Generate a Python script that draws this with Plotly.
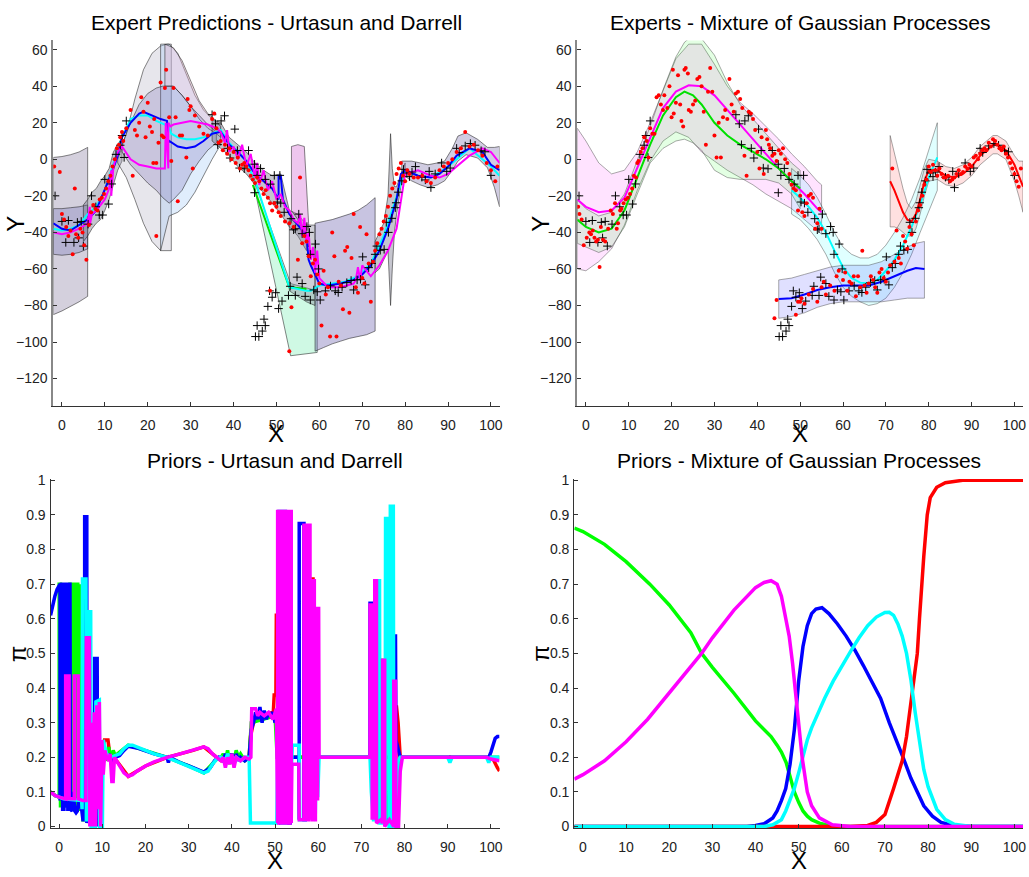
import plotly.graph_objects as go
from plotly.subplots import make_subplots

# ---------------- shared training points (black plus) ----------------
plus_pts = [(-1.6,-20),(0,-34),(1.5,-33.5),(0.9,-45.5),(2.8,-45.5),(3.6,-34.5),(4.5,-34),(3.9,-43),(5,-47.5),(6.1,-35.5),
            (6.9,-20),(7.9,-26),(8.7,-30.5),(9.5,-30.5),(10,-11),(10.9,-24.5),(11.6,-13.5),(12.6,2.7),(13.6,7.7),(14,13),(15,21),(14.5,1),
            (35,24.4),(35.8,19.4),(37.1,21),(37.9,23.8),(36.3,8),(38.6,6),(39.2,0.7),(40.3,16.5),(40.9,4.8),(41.4,-4.8),
            (42.5,-5.2),(43.5,4.8),(44.9,-2.7),(45.5,-8.8),(44.9,-18.3),(46.3,-5),(47.4,-11),(48.6,-13.6),(49.5,-8.8),(50.8,-8.8),
            (50.2,-23.4),(51,-24),(51.8,-29),(53.4,-32.5),(54,-38.6),(54.4,-38),(55.2,-30),(56,-40.7),(57.1,-36.8),(57.7,-40),
            (57.9,-52),(59.1,-46.4),(59.8,-60),
            (45.5,-91),(45.9,-97),(45.1,-97),(46.7,-94),(47.1,-87.5),(47.4,-91),(48,-80.5),(48.4,-72),(49.8,-73),(49,-75.5),
            (50.5,-81.7),(51.3,-77.6),(52.8,-74.5),(53.2,-69.5),(54.4,-74.5),(54.8,-64.5),(56,-68),(56.7,-75),(57.9,-77),(58.7,-71.5),
            (59.5,-72.5),(60.2,-77),(61.4,-72),(62.6,-69.3),(63.7,-72),(64.4,-72.9),(65.3,-70),(66.4,-67.5),(67.4,-66.3),(68,-71.5),
            (68.8,-66),(69.6,-65.7),(70.1,-53.4),(70.7,-68.7),(71.5,-59.3),(72.2,-57),(73,-52),(73.4,-47.5),(74.2,-49.8),(75.1,-49.3),
            (75.6,-34.5),(76.1,-40),(76.9,-32.3),(77.7,-26.5),(77.9,-23.8),(78.4,-18),(79.2,-11.8),(79.6,-5.5),(80.4,-7.5),(81,-9.5),
            (81.6,-7),(82.4,-4),(83.9,-9.8),(84.7,-11.3),(85.6,-6.6),(86,-15.5),(87,-8),(88.5,-2),(89.7,-6.6),(90.5,-4.8),
            (92,6),(92.6,3.7),(94,7.3),(95.2,8.6),(96.3,7.7),(97.7,4.7),(98.6,4.1),(100,-8.8)]

# ---------------- red test points ----------------
tl_red = [(-1.8,-4),(-0.5,-7),(0,-30),(0.5,-33),(1,-37),(1.5,-42),(2,-39),(2.5,-52),(3,-16),(3.3,-41),(3.8,-43),(4.3,-38),
          (4.8,-40),(5.2,-47),(5.7,-55),(6.3,-36),(6.8,-29),(7.3,-25),(7.8,-27),(8.3,-28),(8.8,-22),(9.3,-21),(9.8,-19),(10.3,-16),
          (10.8,-12),(11.3,-9),(11.8,-4),(12.3,0),(12.8,6),(13.3,8),(13.6,12),(14,15),(14.3,10),(15,17),(16,27),(16.5,-9),(17,16),
          (17.5,13),(18,20),(18.5,34),(19,26),(19.5,12),(20,31),(20.5,18),(21,15),(21.3,-2),(21.5,22),(22,-2),(22.5,9),(22,-42),
          (23,42),(23.3,13),(23.7,12),(24,39),(24.3,49),(25,23),(25.5,-1),(26,39),(26.5,23),(27,-23),(27.5,13),(28,13),(29,1),
          (29.3,33),(29.7,27),(30,29),(30.5,-5),(31,24),(32,18),(33,14),(34,13),(35,22),(35.5,25),(36,17),(36.5,9),(37,10),(37.5,5),
          (38,8),(38.5,3),(39,6),(39.5,0),(40,4),(40.5,-2),(41,1),(41.5,-5),(42,-3),(42.5,-2),(43,-4),(43.5,-6),(44,-9),(44.5,-11),
          (45,-13),(45.5,-10),(46,-12),(46.5,-16),(47,-19),(47.5,-17),(48,-21),(48.5,-24),(49,-28),(49.5,-24),(50,-26),(50.5,-29),
          (51,-31),(52,-34),(53,-35),(54,-37),(55,-55),(55.5,-10),(56,-46),(56.5,-42),(57,-45),(57.5,-53),(58,-64),(58.5,-57),
          (59,-55),(59.5,-63),(60,-68),(60.5,-91),(61,-61),(61.5,-74),(62,-70),(62.5,-97),(63,-40),(63.5,-53),(64,-97),(64.5,-67),
          (65,-69),(65.5,-82),(66,-50),(66.5,-48),(67,-84),(67.5,-54),(68,-30),(68.5,-70),(69,-73),(69.5,-37),(70,-65),(70.5,-68),
          (71,-41),(71.5,-57),(72,-78),(72.5,-56),(73,-50),(73.5,-46),(74,-41),(74.5,-38),(75,-34),(75.5,-31),(76,-26),(76.5,-20),
          (77,-16),(77.5,-13),(78,-8),(78.5,-5),(79,-2),(79.5,-9),(80,-12),(80.5,-6),(81,-8),(82,-10),(83,-10),(84,-9),(85,-12),
          (86,-13),(87,-10),(88,-6),(89,-4),(90,-2),(91,0),(92,4),(93,6),(94,15),(95,7),(96,8),(97,5),(98,2),(99,-2),(100,-6),
          (101,-12),(101.5,-4),(53,-105),(53.5,-81),(48.5,-72)]

tr_red = [(-1.8,-26),(-1.5,-30),(-1,-33),(-0.5,-47),(0.2,-43),(0.8,-40),(1.2,-41),(1.6,-39),(2,-43),(2.4,-45),(2.8,-44),(3.2,-59),
          (3.5,-37),(4,-44),(4.5,-45),(5.2,-38),(5.8,-28),(6.3,-30),(6.8,-24),(7.2,-38),(7.5,-35),(8,-28),(8.3,-27),(8.8,-24),(9.3,-22),
          (9.8,-21),(10.3,-19),(10.8,-16),(11.2,-9),(11.7,-10),(12,-2),(12.3,-1),(12.8,4),(13.2,6),(13.6,12),(14.2,10),(14.6,1),(15,17),
          (15.5,14),(16,14),(16.5,34),(17,35),(17.5,30),(18,27),(18.3,35),(19,28),(19.5,40),(20,23),(20.5,25),(20.3,49),(21,31),
          (21.5,46),(22,30),(22.3,21),(22.7,18),(23,49),(23.3,50),(23.8,47),(24,27),(24.5,26),(25,30),(25.5,32),(26,44),(26.5,45),
          (27,40),(27.5,26),(28,8),(28.5,37),(29,50),(29.5,37),(30,13),(30.5,1),(31,20),(31.5,1),(32,23),(32.5,27),(33,22),(33.5,44),
          (34,30),(34.5,26),(35,36),(35.5,37),(36,33),(36.5,28),(37,2),(37.5,-9),(38,26),(38.5,25),(39,22),(39.5,16),(40,4),(40.5,-5),
          (41,12),(41.5,-8),(42,16),(42.3,11),(42.7,8),(43,6),(43.5,2),(44,3),(44.5,-1),(45,5),(45.5,3),(46,6),(46.5,0),(47,-2),
          (47.5,-8),(48,-14),(48.5,-16),(49,-17),(49.5,-28),(50,-20),(50.5,-29),(51,-31),(51.5,-24),(52,-20),(52.5,-19),(53,-21),
          (53.5,-38),(54,-35),(54.5,-27),(55,-38),(44,-87),(44.5,-77),(49,-85),(49.5,-78),(50,-78),(50.3,-76),(51,-79),(52,-74),
          (53,-71),(54,-78),(55,-70),(55.5,-67),(56,-74),(57,-69),(58,-72),(58.5,-64),(59,-61),(60,-66),(60.5,-62),(61,-72),
          (61.5,-67),(62,-68),(62.5,-64),(63,-75),(63.5,-64),(64,-70),(64.5,-50),(65,-69),(65.5,-73),(66,-68),(66.5,-64),(67,-66),
          (67.5,-70),(68,-73),(68.5,-62),(69,-60),(69.5,-65),(70,-67),(70.5,-62),(71,-58),(71.5,-5),(72,-56),(72.5,-39),(73,-54),
          (73.5,-57),(74,-42),(74.5,-45),(75,-49),(75.5,-37),(76,-41),(76.5,-47),(77,-34),(77.5,-28),(78,-25),(78.5,-20),(79,-14),
          (79.5,-11),(80,-4),(80.5,-7),(81,-3),(81.5,-6),(82,-9),(82.5,-5),(83,-8),(83.5,-10),(84,-10),(84.5,-9),(85,-12),(85.5,-11),
          (86,-10),(86.5,-8),(87,-6),(87.5,-8),(88,-7),(88.5,-4),(89,-5),(89.5,-3),(90,-4),(90.5,1),(91,2),(91.5,0),(92,3),(92.5,5),
          (93,6),(93.5,5),(94,9),(94.5,7),(95,11),(95.5,10),(96,8),(96.5,6),(97,5),(97.5,7),(98,3),(98.5,1),(99,-2),(99.5,-5),
          (100,-8),(100.5,-12),(101,-15),(101.5,-5)]

# ---------------- TR: mixture of GP experts (x, mean, upper, lower) ----------------
trm_x    = [-2, 0, 3, 6, 9, 12, 15, 18, 21, 24, 27, 30, 33, 36, 39, 42, 45, 48, 51, 54, 55]
trm_mean = [-22,-26,-29,-28,-21,-5, 12, 28, 37, 40.5, 40, 35, 27, 19, 11, 3, -5, -12, -19, -27, -29]
trm_up   = [17, 10, -2, -8, -6, 4, 20, 38, 55, 63, 63, 52, 40, 31, 25, 18, 11, 3, -4, -12, -14]
trm_lo   = [-60,-61,-56,-49,-36,-17,-1, 10, 15, 12, 4, -1, -6, -10, -14, -19, -23, -27, -33, -39, -41]

trg_x    = [-2, 0, 3, 6, 9, 12, 15, 18, 21, 23, 25, 27, 30, 33, 36, 39, 42, 45, 48, 50]
trg_mean = [-33,-37,-40,-38,-28,-10, 8, 24, 34, 37, 35, 30, 20, 13, 8, 4, 0, -5, -12, -16]
trg_up   = [-22,-27,-31,-29,-19,-1, 18, 38, 56, 64, 68, 66, 57, 42, 30, 22, 14, 6, -2, -6]
trg_lo   = [-46,-48,-51,-48,-37,-19,-2, 6, 10, 11, 9, 5, -6, -10, -11, -11, -11, -13, -19, -27]

trc_x    = [48, 50, 52, 54, 56, 58, 60, 62, 64, 66, 68, 70, 72, 74, 76, 78, 80, 82]
trc_mean = [-17,-21,-26,-32,-40,-50,-59,-65,-67.5,-68,-66,-61,-55,-47,-37,-25,-10, 1]
trc_up   = [-5, -9, -14,-21,-30,-40,-48,-52,-54,-54,-52,-47,-40,-32,-22,-10, 5, 20]
trc_lo   = [-30,-33,-38,-44,-52,-62,-70,-75,-78,-80,-79,-76,-70,-62,-52,-40,-28,-17]

trb_x    = [45, 48, 51, 54, 57, 60, 63, 66, 69, 72, 75, 77, 79]
trb_mean = [-76.5,-76,-74,-71.5,-70,-69,-69,-69,-67,-64,-61,-59.5,-60]
trb_up   = [-66,-65,-63,-61,-59,-58,-58,-58,-56,-52,-48,-46,-45]
trb_lo   = [-87,-86,-84,-81,-79,-78,-78,-78,-78,-77,-76,-76,-76]

trr_x    = [71, 72, 73, 74, 75, 76, 77, 78, 79, 80, 82, 84, 86, 88, 90, 92, 94, 95, 96, 98, 100, 101, 102]
trr_mean = [-12,-17,-23,-29,-33,-34,-30,-22,-12,-6,-6,-9,-10,-8,-4, 2, 6, 8, 8, 5, -3, -9, -15]
trr_up   = [13, 3, -7, -16,-24,-27,-23,-14,-5, 0, -1,-4,-5,-3, 1, 7, 11, 13, 13, 10, 2, -1, -1]
trr_lo   = [-37,-37,-38,-40,-42,-42,-38,-30,-20,-12,-11,-14,-15,-13,-9,-3, 1, 3, 3, 0, -12,-20,-29]

# ---------------- TL: Urtasun & Darrell bands (x, upper, lower) ----------------
tlb1_x = [-2, 0, 2, 4, 6];            tlb1_up = [1, 1.5, 2.5, 4, 6.5];          tlb1_lo = [-85, -83, -80.5, -78, -75]
tlb2_x = [-2, 0, 2, 4, 6];            tlb2_up = [-27, -27, -26.5, -26, -25];    tlb2_lo = [-52, -52.5, -52, -51, -49]
tlb3_x = [5, 6, 7, 8, 9, 10, 11, 12, 13, 14]
tlb3_up = [-25, -22, -18, -16, -12, -9, -5, 4, 8, 12]
tlb3_lo = [-45, -42, -38, -35, -33, -28, -22, -14, -6, -1]
tlb4_x = [13, 15, 17, 19, 21, 23, 24.5, 25.5]
tlb4_up = [0, 14, 33, 49, 58, 62, 63, 63]
tlb4_lo = [-2, -10, -22, -35, -45, -50, -50, -50]
tlb5_x = [23, 25, 27, 29, 31, 33, 35, 37]
tlb5_up = [63, 63, 58, 47, 35, 27, 22, 18]
tlb5_lo = [-50, -31, -29, -25, -18, -9, 0, 8]
tlb6_x = [24, 26, 28, 30, 32, 34, 36, 37]
tlb6_up = [63, 61, 54, 43, 32, 25, 21, 18]
tlb6_lo = [40, 40, 35, 29, 22, 17, 14, 12]
tlb7_x = [14, 16, 18, 20, 22, 23.5, 25, 26, 28, 30, 32, 34, 36]
tlb7_up = [8, 20, 30, 36, 39, 40, 40, 40, 35, 29, 24, 19, 15]
tlb7_lo = [4, -3, -8, -13, -17, -21, -24, -22, -17, -8, -1, 5, 9]
tlb8_x = [35, 37, 39, 41, 43, 45, 47, 49, 51, 53, 55, 57]
tlb8_up = [22, 20, 12, 8, 4, -2, -6, -9, -8, -28, -30, -36]
tlb8_lo = [10, 6, 2, -4, -8, -14, -18, -24, -30, -37, -42, -50]
tlb9_x = [45, 53.3, 59.5];            tlb9_up = [-13, -68, -72];                tlb9_lo = [-17, -107.5, -105.7]
tlb10_x = [53.5, 55, 56.5, 57.5];     tlb10_up = [7, 8, 7, -35];                tlb10_lo = [-28, -33, -40, -48]
tlb11_x = [53, 55, 57, 59];           tlb11_up = [-32, -36, -36, -36];          tlb11_lo = [-72, -75, -78, -80]
tlb12_x = [59, 61, 63, 65, 67, 69, 71, 73]
tlb12_up = [-35, -34, -33, -31.5, -30, -28, -25, -21]
tlb12_lo = [-105, -103, -101, -99.5, -98, -97, -96, -94]
tlb13_x = [73, 74, 75, 76, 76.6, 77, 77.5, 78, 79, 80]
tlb13_up = [-45, -40, -35, -20, 14, -5, -15, -15, -8, -2]
tlb13_lo = [-62, -60, -55, -50, -80, -60, -40, -30, -15, -8]
tlb14_x = [79.2, 81.5, 83.5, 85.3, 87.5, 89.2, 91, 92.3, 94.2, 96.9, 99.2, 100.8, 102]
tlb14_up = [-1, -1, -2, -3, -2, -1, 6, 12.7, 14.5, 10.9, 6.5, 6.5, 7]
tlb14_lo = [-8, -11.8, -14, -15.4, -14, -11.8, -6, -1, 2.5, 0.7, -4.7, -15.4, -26]

tl_blue_x = [-2,0,2,4,6,8,10,12,13,14,16,18,19,21,23,24.5,24.5,25,27,29,31,33,35,37,39,41,43,45,47,49,50.5,50.5,51,51.5,
             53,55,57,57.5,58,60,62,65,68,70,72,74,76,78,79,80,83,86,88,90,92,95,98,100,102]
tl_blue_y = [-35,-38,-39,-36,-33,-28,-17,-5,2,12,20,25,26,24,22,21,8,10,7,6,7,10,14,15,8,4,-1,-8,-12,-16,-22,-9,-9,-22,
             -30,-36,-42,-55,-58,-68,-69,-68,-66,-63,-58,-50,-38,-22,-8,-6,-9,-10,-8,-4,2,6,4,-3,-6]
tl_cyan_x = [-2,0,2,4,6,8,10,12,14,16,18,20,22,24,25,25.5,27,29,31,33,35,37,39,41,43,45.5,53,57,58,60,63,66,69,72,75,78,80,
             83,86,90,95,100,102]
tl_cyan_y = [-38,-39,-38,-36,-30,-26,-17,-2,12,22,24,24,21,19,17,14,12,11,11,12,14,16,9,4,-1,-15,-70,-72,-72,-69,-68,-67,-64,
             -57,-42,-20,-6,-9,-10,-4,6,-4,-9]
tl_green_x = [44.5, 53, 57]
tl_green_y = [-14, -70, -71]
tl_mag_x = [-2,0,2,4,6,6.5,6.5,7,8,10,11,11.5,11.5,12,13,14,16,18,20,22,24,24.2,24.8,24.8,25.3,26,28,30,32,34,36,37,
            38,38.5,39,40,41,42,43,44,45,45.5,46,47,48,49,50,51,52,53,54,55,55.5,56,56.5,57,57.5,58,58.5,59,59.5,60,
            62,65,68,68.5,69,69.5,70,72,74,76,78,79,80,83,86,88,90,92,95,98,100,102]
tl_mag_y = [-40,-41,-40,-38,-35,-26,-36,-30,-28,-22,-16,-6,-20,-4,4,7,0,-3,-4,-5,-5,20,-5,20,18,19,20,21,20,19,17,15,
            9,16,4,7,0,8,-4,3,-10,-2,-14,-6,-17,-12,-22,-19,-26,-28,-33,-35,-30,-42,-32,-46,-40,-55,-48,-62,-50,-65,-70,
            -70,-68,-66,-59,-66,-58,-64,-58,-50,-38,-22,-8,-6,-9,-10,-8,-4,2,6,4,-2,-8]

# ---------------- BL: priors, Urtasun & Darrell ----------------
bl_red = [(-2,0.1),(-1,0.09),(0,0.085),(1,0.08),(7,0.075),(8,0.2),(10,0.22),(10.5,0.25),(11.3,0.25),(11.8,0.2),(13.3,0.19),
          (16,0.145),(20,0.175),(25,0.2),(31,0.22),(33.5,0.23),(36.5,0.2),(37.5,0.19),(44,0.2),(44.3,0.26),
          (45,0.3),(47,0.32),(49.6,0.33),(49.8,0.38),(50.2,0.38),(50.3,0.61),(50.6,0.61),(50.7,0.2),(54,0.2),(58.2,0.2),
          (58.3,0.715),(58.8,0.715),(58.9,0.2),(72,0.2),(78,0.2),(78.1,0.35),(78.5,0.3),(79,0.2),(99,0.2),(100,0.2),
          (100.5,0.195),(101,0.18),(101.5,0.17),(102,0.16)]
bl_green = [(-2,0.1),(-1,0.09),(0.0,0.085),(0.0,0.7),(0.3,0.7),(0.3,0.06),(2.5,0.06),(2.5,0.7),(2.8,0.7),(2.8,0.05),(3.1,0.05),
            (3.1,0.7),(3.4,0.7),(3.4,0.05),(3.7,0.05),(3.7,0.7),(4.3,0.7),(4.3,0.05),(4.6,0.05),(4.6,0.695),(5.0,0.695),
            (5.0,0.05),(5.3,0.05),(5.3,0.695),(5.5,0.695),(5.5,0.02),(7,0.02),(8,0.1),(9,0.05),(10,0.2),(10.5,0.22),(11,0.19),
            (11.5,0.23),(12,0.18),(12.5,0.22),(13,0.205),(16,0.235),(20,0.22),(25,0.2),(30,0.175),(33.5,0.155),(36.5,0.195),
            (37.5,0.2),(38,0.21),(38.5,0.19),(39,0.22),(39.5,0.18),(40,0.21),
            (40.5,0.19),(41,0.22),(41.5,0.2),(42,0.21),(43,0.19),(44,0.2),(44.5,0.3),(50,0.32),(50.5,0.2),(72,0.2),(74.3,0.2),
            (74.4,0.48),(75.6,0.48),(75.7,0.1),(76,0.02),(78,0.02),(79,0.2),(99,0.2),(100,0.2),(102,0.2)]
bl_blue = [(-2,0.61),(-1.5,0.64),(-1,0.665),(-0.5,0.685),(0,0.698),(0.2,0.7),(0.2,0.08),(0.5,0.08),(0.5,0.7),(0.8,0.7),
           (0.8,0.05),(1.1,0.05),(1.1,0.7),(1.4,0.7),(1.4,0.06),(1.7,0.06),(1.7,0.7),(2.0,0.7),(2.0,0.05),(2.3,0.05),(2.3,0.7),
           (2.5,0.7),(2.6,0.05),(3.0,0.045),(3.3,0.1),(3.6,0.045),(3.9,0.04),(4.2,0.045),(4.6,0.08),(5.2,0.05),(5.5,0.02),
           (5.9,0.02),(5.9,0.895),(6.4,0.895),(6.4,0.01),(7,0.2),(7.5,0.05),(8.0,0.3),(8.2,0.02),(8.2,0.485),(8.8,0.485),
           (8.9,0.0),(9.4,0.25),(9.8,0.1),(10.2,0.24),(10.8,0.2),(11.5,0.21),(12,0.19),(13,0.2),(14,0.205),(15,0.22),(16,0.232),
           (18,0.227),(20,0.218),(22,0.21),(25,0.2),(25.3,0.185),(25.6,0.2),(28,0.185),(31,0.17),(33.5,0.157),(35,0.17),
           (36,0.19),(37,0.2),(38,0.19),(38.5,0.21),(39,0.185),(40,0.21),(40.5,0.18),(41,0.21),(41.5,0.19),(42,0.2),(43,0.19),
           (44,0.2),(44.5,0.28),(45,0.3),(45.5,0.33),(46,0.31),(46.5,0.345),(47,0.3),(47.5,0.335),(48,0.31),(48.5,0.33),
           (49,0.32),(49.5,0.33),(50,0.3),(50.5,0.32),(50.9,0.01),(50.9,0.91),(51.3,0.91),(51.3,0.01),(52.1,0.01),(52.1,0.91),
           (52.4,0.91),(52.4,0.01),(53.5,0.01),(53.7,0.2),(55.5,0.2),(55.6,0.02),(55.6,0.875),(56.7,0.875),(56.7,0.02),
           (57.0,0.02),(57.2,0.2),(60,0.2),(72,0.2),(72.0,0.645),(72.7,0.645),(72.7,0.05),(73.5,0.02),(74.4,0.02),(74.4,0.42),
           (74.9,0.42),(74.9,0.02),(77.4,0.02),(77.5,0.55),(77.9,0.55),(78,0.25),(78.6,0.22),(79,0.2),(99,0.2),(99.5,0.2),
           (100,0.215),(100.5,0.24),(101,0.255),(101.5,0.26),(102,0.26)]
bl_cyan = [(-2,0.1),(-1,0.09),(0,0.085),(1,0.08),(5.2,0.075),(5.3,0.05),(5.4,0.715),(6.2,0.715),(6.3,0.02),(6.8,0.02),(7.0,0.62),(7.3,0.62),(7.4,0.0),
           (8.4,0.0),(8.5,0.36),(9.3,0.365),(9.4,0.0),(10.0,0.0),(10.2,0.25),(11,0.21),(12,0.2),(13,0.205),(14,0.21),(15,0.225),
           (16,0.235),(17,0.235),(18,0.23),(20,0.22),(22,0.21),(25,0.2),(28,0.185),(30,0.175),(32,0.163),(33.5,0.155),
           (34.5,0.16),(35.5,0.18),(36.5,0.195),(37.5,0.2),(38.5,0.19),(39,0.21),(40,0.19),(41,0.2),(42,0.19),(43,0.2),(44,0.2),
           (44.3,0.01),(50.4,0.01),(50.6,0.17),(51.5,0.17),(51.6,0.01),(52.4,0.01),(52.6,0.17),(53.8,0.17),(54.0,0.235),
           (55.6,0.235),(55.7,0.02),(57.0,0.02),(57.2,0.17),(57.8,0.17),(58,0.03),(59.3,0.02),(59.4,0.09),(59.9,0.09),(60.2,0.2),
           (72,0.2),(72.3,0.1),(72.8,0.02),(73.6,0.02),(73.6,0.71),(74.2,0.71),(74.3,0.01),(75.5,0.01),(75.6,0.89),(76.3,0.89),
           (76.4,0.0),(76.7,0.0),(76.7,0.925),(77.4,0.925),(77.5,0.0),(78.3,0.0),(78.5,0.19),(79,0.2),(90,0.2),(90.5,0.185),
           (91,0.2),(99,0.2),(99.5,0.185),(100,0.2),(102,0.2)]
bl_mag = [(-2,0.1),(-1,0.09),(0,0.085),(1,0.08),(1.5,0.08),(1.5,0.435),(2.3,0.435),(2.3,0.08),(3.5,0.08),(3.5,0.435),
          (4.4,0.435),(4.4,0.08),(5.5,0.075),(6.2,0.075),(6.3,0.545),(7.0,0.545),(7.1,0.0),(7.5,0.3),(7.8,0.0),(8.1,0.33),
          (8.4,0.0),(8.7,0.35),(9.0,0.05),(9.3,0.36),(9.6,0.0),(9.9,0.25),(10.2,0.15),(10.6,0.22),(11,0.2),(11.5,0.19),
          (11.8,0.21),(12.2,0.13),(12.5,0.13),(12.8,0.2),(13.3,0.19),(14,0.175),(15,0.155),(16,0.145),(17,0.15),(18,0.16),
          (20,0.175),(22,0.187),(25,0.2),(28,0.21),(31,0.22),(33.5,0.23),(34.5,0.225),(35.5,0.21),(36.5,0.2),(37.5,0.19),
          (38,0.2),(38.5,0.17),(39,0.2),(39.5,0.18),(40,0.21),(40.5,0.17),(41,0.2),(42,0.19),(43,0.2),(44,0.195),(44.4,0.2),
          (44.6,0.34),(45.5,0.34),(46,0.32),(46.5,0.33),(47.5,0.32),(48.5,0.33),(49.5,0.31),(50.3,0.34),(50.6,0.01),
          (50.6,0.91),(50.85,0.91),(50.85,0.01),(51.35,0.01),(51.35,0.91),(51.6,0.91),(51.6,0.01),(51.85,0.01),(51.85,0.91),
          (52.05,0.91),(52.05,0.01),(52.45,0.01),(52.45,0.91),(52.7,0.91),(52.7,0.01),(52.95,0.01),(52.95,0.91),(53.2,0.91),
          (53.2,0.01),(53.45,0.01),(53.45,0.91),(53.75,0.91),(53.75,0.01),(53.9,0.18),(55.5,0.18),(55.6,0.02),(56.7,0.02),
          (56.7,0.87),(57.0,0.87),(57.0,0.02),(57.25,0.02),(57.25,0.87),(57.5,0.87),(57.5,0.02),(57.75,0.02),(57.75,0.87),
          (58.1,0.87),(58.1,0.02),(58.3,0.02),(58.3,0.71),(58.6,0.71),(58.6,0.02),(58.85,0.02),(58.85,0.71),(59.1,0.71),
          (59.1,0.02),(59.35,0.02),(59.35,0.63),(59.6,0.63),(59.6,0.08),(59.85,0.08),(59.85,0.63),(60.1,0.63),(60.2,0.2),
          (72,0.2),(72.0,0.64),(72.5,0.64),(72.5,0.02),(72.8,0.1),(73.1,0.02),(73.1,0.71),(73.5,0.71),(73.5,0.01),(74.5,0.02),
          (74.9,0.01),(74.9,0.48),(75.4,0.48),(75.4,0.0),(76.5,0.02),(77.5,0.0),(77.5,0.42),(77.9,0.42),(78.0,0.0),(78.6,0.0),
          (79,0.16),(79.5,0.2),(99,0.2),(100,0.195),(102,0.19)]

# ---------------- BR: priors, mixture of GP ----------------
br_green = [(-2,0.862),(0,0.852),(5,0.815),(10,0.765),(15.5,0.7),(20,0.64),(25,0.56),(27.5,0.5),(30,0.46),(35,0.385),
            (40,0.305),(42,0.28),(43.6,0.26),(45,0.235),(46,0.215),(47.1,0.185),(48,0.14),(49,0.1),(50,0.07),(51,0.045),
            (52,0.03),(53,0.02),(54.8,0.01),(57,0.003),(60,0),(102,0)]
br_mag = [(-2,0.137),(0,0.15),(5,0.19),(10,0.245),(15,0.31),(20,0.385),(25,0.46),(27.5,0.5),(30,0.545),(35,0.625),
          (40,0.69),(42,0.705),(43.6,0.71),(45,0.7),(46,0.665),(47,0.6),(47.8,0.55),(48.6,0.47),(49.3,0.38),(50,0.3),
          (50.8,0.2),(52,0.1),(53,0.06),(54.8,0.025),(57.8,0.005),(62,0),(102,0)]
br_blue = [(-2,0),(38,0),(40,0.003),(42,0.008),(44,0.025),(45,0.045),(46,0.075),(47,0.11),(48,0.18),(49,0.28),(50,0.42),
           (51,0.52),(52,0.58),(53,0.615),(54,0.628),(55.4,0.632),(57,0.615),(59,0.585),(61,0.55),(63,0.51),(65,0.465),
           (67,0.42),(69,0.37),(71,0.3),(73,0.24),(74.2,0.2),(76,0.14),(77.5,0.1),(79,0.06),(81,0.03),(83,0.012),(86,0.003),
           (90,0),(102,0)]
br_cyan = [(-2,0),(42,0),(44,0.005),(46,0.02),(47,0.045),(48,0.075),(49,0.11),(50,0.155),(51,0.205),(52,0.25),(53,0.285),
           (54,0.315),(56,0.37),(58,0.42),(60,0.465),(62,0.505),(64,0.545),(66,0.58),(68,0.605),(70,0.618),(71,0.619),
           (72,0.61),(73,0.585),(74,0.55),(75,0.5),(76,0.425),(77,0.33),(78,0.24),(79,0.165),(80,0.115),(81,0.08),(82,0.05),
           (84,0.02),(86,0.007),(90,0),(102,0)]
br_red = [(-2,0),(62,0),(66,0.003),(68,0.012),(70,0.035),(71,0.07),(72,0.11),(73,0.15),(74,0.19),(75,0.26),(76,0.36),
          (77,0.45),(77.5,0.5),(78,0.6),(78.5,0.7),(79,0.78),(79.8,0.9),(80.5,0.95),(82,0.98),(84,0.993),(88,1),(102,1)]

# ---------------- figure ----------------
FONT = "Liberation Sans, Arial, Helvetica, sans-serif"
W, H = 1029, 877
fig = make_subplots(rows=2, cols=2)


def unzip(pts):
    return [p[0] for p in pts], [p[1] for p in pts]


def band(x, up, lo, fill, row, col, edge="rgba(30,30,30,0.6)", ew=0.9):
    px = list(x) + list(reversed(x)) + [x[0]]
    py = list(up) + list(reversed(lo)) + [up[0]]
    fig.add_trace(go.Scatter(x=px, y=py, mode="lines", fill="toself", fillcolor=fill,
                             line=dict(color=edge, width=ew), hoverinfo="skip"), row=row, col=col)


def line(x, y, color, width, row, col):
    fig.add_trace(go.Scatter(x=x, y=y, mode="lines", line=dict(color=color, width=width)), row=row, col=col)


# TL bands
tl_bands = [
    (tlb1_x, tlb1_up, tlb1_lo, "rgba(120,110,150,0.32)"),
    (tlb2_x, tlb2_up, tlb2_lo, "rgba(100,100,180,0.28)"),
    (tlb3_x, tlb3_up, tlb3_lo, "rgba(110,110,130,0.40)"),
    (tlb4_x, tlb4_up, tlb4_lo, "rgba(170,165,185,0.28)"),
    (tlb5_x, tlb5_up, tlb5_lo, "rgba(160,200,245,0.32)"),
    (tlb6_x, tlb6_up, tlb6_lo, "rgba(230,170,200,0.32)"),
    (tlb7_x, tlb7_up, tlb7_lo, "rgba(110,100,175,0.25)"),
    (tlb8_x, tlb8_up, tlb8_lo, "rgba(110,110,130,0.40)"),
    (tlb9_x, tlb9_up, tlb9_lo, "rgba(130,240,185,0.38)"),
    (tlb11_x, tlb11_up, tlb11_lo, "rgba(130,130,150,0.38)"),
    (tlb10_x, tlb10_up, tlb10_lo, "rgba(215,120,215,0.42)"),
    (tlb12_x, tlb12_up, tlb12_lo, "rgba(110,100,175,0.38)"),
    (tlb13_x, tlb13_up, tlb13_lo, "rgba(120,120,140,0.42)"),
    (tlb14_x, tlb14_up, tlb14_lo, "rgba(120,110,170,0.35)"),
]
for bx, bu, bl, fc in tl_bands:
    band(bx, bu, bl, fc, 1, 1)
line(tl_green_x, tl_green_y, "#00e000", 2, 1, 1)
line(tl_cyan_x, tl_cyan_y, "#00ffff", 2, 1, 1)
line(tl_blue_x, tl_blue_y, "#0000ff", 2, 1, 1)
line(tl_mag_x, tl_mag_y, "#ff00ff", 2, 1, 1)

# TR bands + means
tr_experts = [
    (trm_x, trm_mean, trm_up, trm_lo, "#ff00ff", "rgba(255,0,255,0.11)"),
    (trg_x, trg_mean, trg_up, trg_lo, "#00e000", "rgba(0,255,0,0.11)"),
    (trc_x, trc_mean, trc_up, trc_lo, "#00ffff", "rgba(0,255,255,0.12)"),
    (trb_x, trb_mean, trb_up, trb_lo, "#0000ff", "rgba(0,0,255,0.12)"),
    (trr_x, trr_mean, trr_up, trr_lo, "#ff0000", "rgba(255,0,0,0.12)"),
]
for ex, em, eu, el, lc, fc in tr_experts:
    band(ex, eu, el, fc, 1, 2, edge="rgba(60,60,60,0.55)", ew=0.8)
for ex, em, eu, el, lc, fc in tr_experts:
    line(ex, em, lc, 2, 1, 2)

# points on both top panels
px_, py_ = unzip(plus_pts)
for (rx, ry), col in ((unzip(tl_red), 1), (unzip(tr_red), 2)):
    fig.add_trace(go.Scatter(x=px_, y=py_, mode="markers",
                             marker=dict(symbol="cross-thin", size=6, line=dict(color="black", width=1))), row=1, col=col)
    fig.add_trace(go.Scatter(x=rx, y=ry, mode="markers",
                             marker=dict(symbol="circle", size=4, color="#ff0000", line=dict(width=0))), row=1, col=col)

# BL priors
for pts, c in ((bl_red, "#ff0000"), (bl_green, "#00ff00"), (bl_blue, "#0000ff"), (bl_cyan, "#00ffff"), (bl_mag, "#ff00ff")):
    x, y = unzip(pts)
    line(x, y, c, 3.5, 2, 1)

# BR priors
for pts, c in ((br_green, "#00ff00"), (br_blue, "#0000ff"), (br_red, "#ff0000"), (br_cyan, "#00ffff"), (br_mag, "#ff00ff")):
    x, y = unzip(pts)
    line(x, y, c, 3.5, 2, 2)

# ---------------- axes ----------------
dom_x = {1: [53.5 / W, 501 / W], 2: [579 / W, 1026 / W], 3: [50.7 / W, 501 / W], 4: [576 / W, 1026 / W]}
dom_y_top = [1 - 405 / H, 1 - 34 / H]
dom_y_bot = [1 - 833.3 / H, 1 - 479 / H]
xticks = [0, 10, 20, 30, 40, 50, 60, 70, 80, 90, 100]
yticks_top = [60, 40, 20, 0, -20, -40, -60, -80, -100, -120]
yticks_bot = [0, 0.1, 0.2, 0.3, 0.4, 0.5, 0.6, 0.7, 0.8, 0.9, 1]
ytext_bot = ["0", "0.1", "0.2", "0.3", "0.4", "0.5", "0.6", "0.7", "0.8", "0.9", "1"]

tickfont = dict(family=FONT, size=14, color="#222")
for i in range(1, 5):
    xa = "xaxis" if i == 1 else f"xaxis{i}"
    ya = "yaxis" if i == 1 else f"yaxis{i}"
    top = i <= 2
    fig.layout[xa].update(domain=dom_x[i], range=[-2, 102], tickvals=xticks, ticks="inside", ticklen=4,
                          tickcolor="#333", showline=True, linecolor="#333", linewidth=1, showgrid=False,
                          zeroline=False, tickfont=tickfont, mirror=False, ticklabelstandoff=6)
    fig.layout[ya].update(domain=dom_y_top if top else dom_y_bot, ticks="inside", ticklen=4, tickcolor="#333",
                          showline=True, linecolor="#888" if top else "#333", linewidth=2 if top else 1.2,
                          showgrid=False, zeroline=False, tickfont=tickfont, mirror=False, ticklabelstandoff=1)
    if top:
        fig.layout[ya].update(range=[-135, 65], tickvals=yticks_top)
    else:
        fig.layout[ya].update(range=[-0.004, 1.004], tickvals=yticks_bot, ticktext=ytext_bot)

# ---------------- text ----------------
titles = [("Expert Predictions - Urtasun and Darrell", 1), ("Experts - Mixture of Gaussian Processes", 2),
          ("Priors - Urtasun and Darrell", 3), ("Priors - Mixture of Gaussian Processes", 4)]
ann = []
for t, i in titles:
    cx = sum(dom_x[i]) / 2
    cy = 1 - 16 / H if i <= 2 else 1 - 460 / H
    ann.append(dict(text=t, x=cx, y=cy, xref="paper", yref="paper", showarrow=False,
                    font=dict(family=FONT, size=21, color="black"), xanchor="center", yanchor="middle"))
for i in range(1, 5):
    cx = sum(dom_x[i]) / 2
    cy = 1 - 433 / H if i <= 2 else 1 - 866 / H
    ann.append(dict(text="X", x=cx, y=cy, xref="paper", yref="paper", showarrow=False,
                    font=dict(family=FONT, size=24, color="black"), xanchor="center", yanchor="middle"))
ylab = [("Y", 15.5, 219.5), ("Y", 542, 219.5), ("π", 17, 656), ("π", 542, 656)]
for t, lx, ly in ylab:
    ann.append(dict(text=t, x=lx / W, y=1 - ly / H, xref="paper", yref="paper", showarrow=False, textangle=-90,
                    font=dict(family=FONT, size=24, color="black"), xanchor="center", yanchor="middle"))

fig.update_layout(width=W, height=H, autosize=False, margin=dict(l=0, r=0, t=0, b=0),
                  paper_bgcolor="white", plot_bgcolor="white", showlegend=False, annotations=ann)
fig.write_html("out.html")
